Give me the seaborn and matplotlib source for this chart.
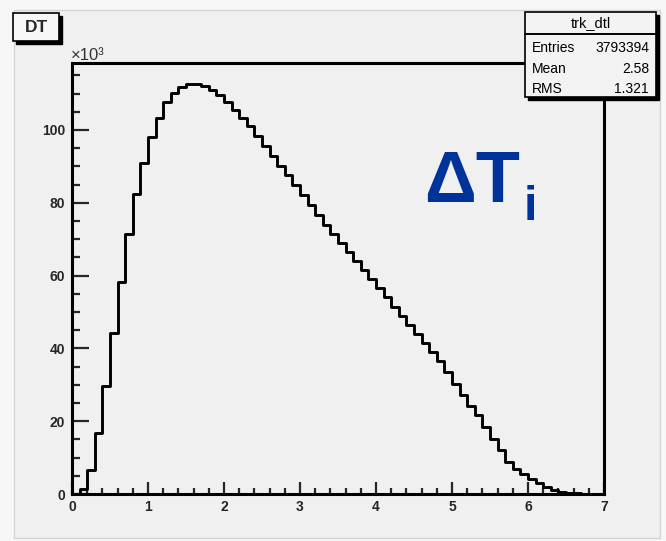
import numpy as np
import pandas as pd
import matplotlib
matplotlib.use("Agg")
import matplotlib.pyplot as plt
import seaborn as sns
from matplotlib.patches import Rectangle
from matplotlib.ticker import MultipleLocator, FixedLocator, FuncFormatter

# ---------------- data ----------------
bin_width = 0.1
bin_lo = 0.0
bin_hi = 7.0
counts_k = [
    0.0, 1.4, 6.5, 16.7, 29.8, 44.3, 58.3, 71.4, 82.3, 90.8,
    98.0, 103.2, 107.8, 110.1, 111.8, 112.6, 112.7, 112.0, 111.0, 109.6,
    107.6, 105.6, 103.4, 101.1, 98.3, 95.6, 92.9, 90.2, 87.5, 84.8,
    82.1, 79.4, 76.7, 74.0, 71.5, 69.0, 66.5, 64.0, 61.5, 59.0,
    56.5, 54.0, 51.5, 49.0, 46.5, 44.0, 41.5, 39.0, 36.4, 33.6,
    30.2, 27.1, 24.3, 21.6, 18.4, 15.2, 12.0, 8.9, 6.9, 5.4,
    4.1, 3.0, 1.9, 1.1, 0.6, 0.35, 0.2, 0.1, 0.05, 0.02,
]
x_ticks = [0, 1, 2, 3, 4, 5, 6, 7]
y_ticks_k = [0, 20, 40, 60, 80, 100]
hist_title = "DT"
stats_title = "trk_dtl"
stats_labels = ["Entries", "Mean", "RMS"]
stats_values = ["3793394", "2.58", "1.321"]
big_label_main = "\u0394T"
big_label_sub = "i"

# ---------------- figure ----------------
W, H = 666, 541
sns.set_theme(style="ticks")
plt.rcParams["font.family"] = ["Liberation Sans", "DejaVu Sans"]

canvas_col = "#f0f0f0"
fig = plt.figure(figsize=(W / 100, H / 100), dpi=100)
fig.patch.set_facecolor("#f7f7f7")

def fx(px):
    return px / W

def fy(py):
    return 1 - py / H

# ROOT canvas
fig.add_artist(Rectangle((fx(14), fy(538)), fx(660) - fx(14), fy(10) - fy(538),
                         transform=fig.transFigure, facecolor=canvas_col,
                         edgecolor="#d4d4d4", lw=1.0, zorder=-5))

ax_l, ax_r, ax_t, ax_b = 72, 604, 63, 494
ax = fig.add_axes([fx(ax_l), fy(ax_b), fx(ax_r) - fx(ax_l), fy(ax_t) - fy(ax_b)])
ax.set_facecolor(canvas_col)

n_bins = len(counts_k)
edges = [round(bin_lo + bin_width * i, 4) for i in range(n_bins + 1)]
centers = [e + bin_width / 2 for e in edges[:-1]]
df = pd.DataFrame({"dt": centers, "w": np.array(counts_k) * 1000.0})

sns.histplot(data=df, x="dt", weights="w", bins=edges, element="step",
             fill=False, color="black", linewidth=2.1, ax=ax)

ymax = 118.4e3
ax.set_xlim(bin_lo, bin_hi)
ax.set_ylim(0, ymax)
ax.set_xlabel("")
ax.set_ylabel("")

for s in ax.spines.values():
    s.set_visible(True)
    s.set_linewidth(2.2)
    s.set_color("black")

ax.xaxis.set_major_locator(FixedLocator(x_ticks))
ax.xaxis.set_minor_locator(MultipleLocator(0.2))
ax.yaxis.set_major_locator(FixedLocator([v * 1000 for v in y_ticks_k]))
ax.yaxis.set_minor_locator(MultipleLocator(5000))
ax.yaxis.set_major_formatter(FuncFormatter(lambda v, p: f"{v / 1000:.0f}"))
ax.xaxis.set_major_formatter(FuncFormatter(lambda v, p: f"{v:.0f}"))

ax.tick_params(axis="x", which="major", direction="in", length=9, width=1.6,
               pad=4.5, labelsize=10, top=False)
ax.tick_params(axis="x", which="minor", direction="in", length=4.5, width=1.6, top=False)
ax.tick_params(axis="y", which="major", direction="in", length=12.5, width=1.6,
               pad=5, labelsize=10, right=False)
ax.tick_params(axis="y", which="minor", direction="in", length=6, width=1.6, right=False)
for lab in ax.get_xticklabels() + ax.get_yticklabels():
    lab.set_fontweight("bold")

# x10^3 multiplier
fig.text(fx(71), fy(60), "\u00d710\u00b3", fontsize=12, color="#333333",
         ha="left", va="baseline")

# DT title box
sh = 3
fig.add_artist(Rectangle((fx(13 + sh), fy(41 + sh)), fx(59) - fx(13), fy(13) - fy(41),
                         transform=fig.transFigure, facecolor="black",
                         edgecolor="black", lw=1.0, zorder=5))
fig.add_artist(Rectangle((fx(13), fy(41)), fx(59) - fx(13), fy(13) - fy(41),
                         transform=fig.transFigure, facecolor="#f7f7f7",
                         edgecolor="black", lw=1.2, zorder=6))
fig.text(fx(36), fy(27), hist_title, fontsize=12.5, fontweight="bold",
         ha="center", va="center", zorder=7)

# Stats box
bl, br, bt, bb, bsep = 525, 656, 12, 97, 34
fig.add_artist(Rectangle((fx(bl + sh), fy(bb + sh)), fx(br) - fx(bl), fy(bt) - fy(bb),
                         transform=fig.transFigure, facecolor="black",
                         edgecolor="black", lw=1.0, zorder=5))
fig.add_artist(Rectangle((fx(bl), fy(bb)), fx(br) - fx(bl), fy(bt) - fy(bb),
                         transform=fig.transFigure, facecolor="#f3f3f3",
                         edgecolor="black", lw=1.2, zorder=6))
fig.add_artist(plt.Line2D([fx(bl), fx(br)], [fy(bsep), fy(bsep)],
                          transform=fig.transFigure, color="black", lw=1.4, zorder=7))
fig.text(fx((bl + br) / 2), fy(23), stats_title, fontsize=10.5,
         ha="center", va="center", color="black", zorder=8)
row_y = [48, 69, 89]
for lab, val, yy in zip(stats_labels, stats_values, row_y):
    fig.text(fx(532), fy(yy), lab, fontsize=10, ha="left", va="center",
             color="black", zorder=8)
    fig.text(fx(649), fy(yy), val, fontsize=10, ha="right", va="center",
             color="black", zorder=8)

# Big blue label
blue = "#003399"
fig.text(fx(424), fy(202), big_label_main, fontsize=52, fontweight="bold",
         color=blue, ha="left", va="baseline", zorder=8)
fig.text(fx(524), fy(220), big_label_sub, fontsize=35, fontweight="bold",
         color=blue, ha="left", va="baseline", zorder=8)

fig.savefig("out.png", dpi=100, facecolor=fig.get_facecolor())
